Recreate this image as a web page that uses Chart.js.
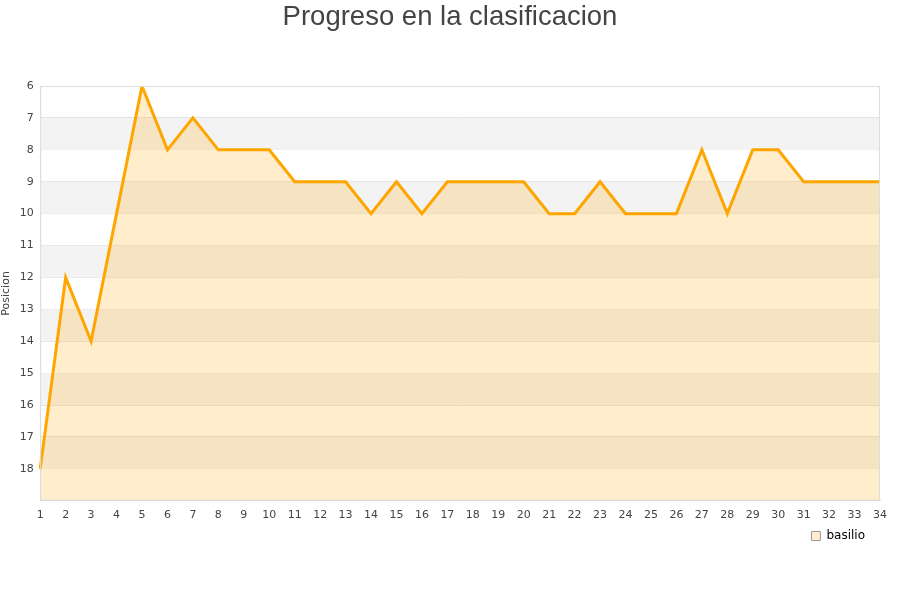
<!DOCTYPE html>
<html>
<head>
<meta charset="utf-8">
<script src="https://cdn.jsdelivr.net/npm/chart.js@4/dist/chart.umd.min.js"></script>
<style>
  body { margin: 0; background: #fff; }
  #wrap { width: 900px; height: 600px; }
</style>
</head>
<body>
<div id="wrap"><canvas id="myChart"></canvas></div>
<script>
const jornadas = ['1','2','3','4','5','6','7','8','9','10','11','12','13','14','15','16','17',
                  '18','19','20','21','22','23','24','25','26','27','28','29','30','31','32','33','34'];
const posiciones = [18, 12, 14, 10, 6, 8, 7, 8, 8, 8, 9, 9, 9, 10, 9, 10, 9,
                    9, 9, 9, 10, 10, 9, 10, 10, 10, 8, 10, 8, 8, 9, 9, 9, 9];
const equipo = 'basilio';
const posMin = 6;
const posMax = 19;

// mueve una caja (leyenda, titulo) unos px en horizontal al dibujarla
function mover(box, dx) {
    if (!box || box._movida) return;
    const orig = box.draw.bind(box);
    box.draw = function() {
        const c = this.ctx;
        c.save();
        c.translate(dx, 0);
        orig();
        c.restore();
    };
    box._movida = true;
}

// franjas grises alternas + borde del area
const bandas = {
    id: 'bandas',
    beforeDraw(chart) {
        mover(chart.legend, -7);
        mover(chart.titleBlock, 10);
    },
    beforeDatasetsDraw(chart) {
        const {ctx, chartArea, scales} = chart;
        const y = scales.y;
        ctx.save();
        for (let v = posMin; v < posMax; v++) {
            if (v % 2 === 1) {
                const a = y.getPixelForValue(v);
                const b = y.getPixelForValue(v + 1);
                ctx.fillStyle = '#f3f3f3';
                ctx.fillRect(chartArea.left, a, chartArea.right - chartArea.left, b - a);
            }
        }
        ctx.restore();
    },
    afterDatasetsDraw(chart) {
        const {ctx, chartArea} = chart;
        ctx.save();
        ctx.strokeStyle = '#dddddd';
        ctx.lineWidth = 1;
        ctx.strokeRect(chartArea.left + 0.5, chartArea.top + 0.5,
                       chartArea.right - chartArea.left - 1, chartArea.bottom - chartArea.top - 1);
        ctx.restore();
    }
};

function drawChart() {
    const ctx = document.getElementById('myChart').getContext('2d');
    new Chart(ctx, {
        type: 'line',
        data: {
            labels: jornadas,
            datasets: [{
                label: equipo,
                data: posiciones,
                borderColor: '#ffa500',
                backgroundColor: 'rgba(255, 165, 0, 0.2)',
                borderWidth: 3,
                pointRadius: 0,
                tension: 0,
                fill: 'start'
            }]
        },
        options: {
            responsive: true,
            maintainAspectRatio: false,
            animation: false,
            layout: { padding: { left: 0, right: 20, top: 0, bottom: 48 } },
            plugins: {
                title: {
                    display: true,
                    text: 'Progreso en la clasificacion',
                    color: '#444',
                    font: { family: 'Liberation Sans', size: 27.5, weight: 'normal' },
                    padding: { top: 1, bottom: 52 }
                },
                legend: {
                    position: 'bottom',
                    align: 'end',
                    labels: {
                        boxWidth: 9,
                        boxHeight: 9,
                        padding: 8,
                        color: '#000',
                        font: { family: 'DejaVu Sans', size: 12 },
                        generateLabels: chart => chart.data.datasets.map((ds, i) => ({
                            text: ds.label,
                            fillStyle: 'rgba(255, 165, 0, 0.2)',
                            strokeStyle: '#999999',
                            lineWidth: 1,
                            fontColor: '#000',
                            hidden: false,
                            datasetIndex: i
                        }))
                    }
                },
                tooltip: { enabled: false }
            },
            scales: {
                x: {
                    offset: false,
                    grid: { display: false },
                    border: { color: '#dddddd' },
                    ticks: {
                        color: '#444',
                        padding: 0,
                        font: { family: 'DejaVu Sans', size: 11 },
                        maxRotation: 0,
                        autoSkip: false
                    }
                },
                y: {
                    reverse: true,
                    min: posMin,
                    max: posMax,
                    title: {
                        display: true,
                        text: 'Posicion',
                        color: '#444',
                        font: { family: 'DejaVu Sans', size: 11 },
                        padding: { top: 0, bottom: 0 }
                    },
                    grid: { color: '#e2e2e2', drawTicks: false },
                    border: { color: '#dddddd' },
                    ticks: {
                        stepSize: 1,
                        padding: 6.5,
                        color: '#444',
                        font: { family: 'DejaVu Sans', size: 11 },
                        callback: v => (v === posMax ? '' : v)
                    }
                }
            }
        },
        plugins: [bandas]
    });
}

drawChart();
</script>
</body>
</html>
